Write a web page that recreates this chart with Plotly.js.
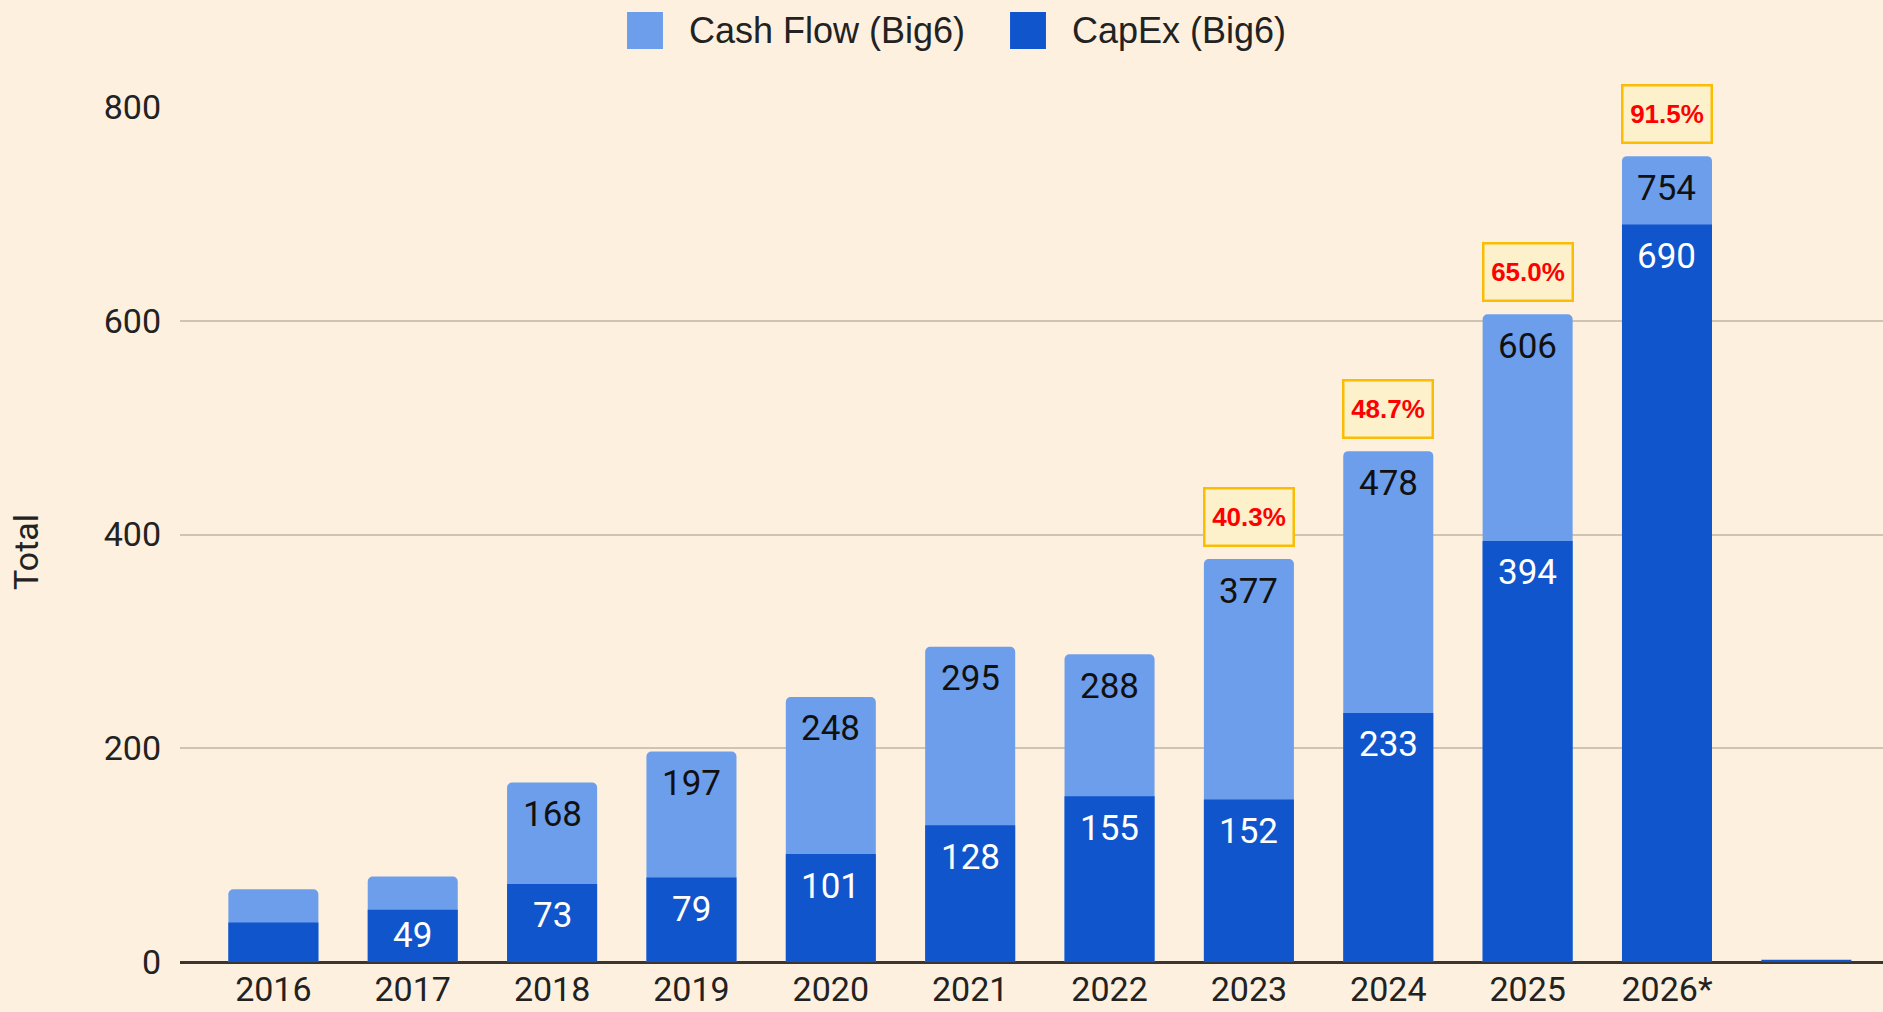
<!DOCTYPE html>
<html>
<head>
<meta charset="utf-8">
<script src="https://cdn.plot.ly/plotly-3.0.1.min.js"></script>
<style>
  html, body { margin: 0; padding: 0; background: #fdf0df; }
  #chart { width: 1883px; height: 1012px; }
</style>
</head>
<body>
<div id="chart"></div>
<script>
// ---- data ----
const categories = ['2016', '2017', '2018', '2019', '2020', '2021', '2022', '2023', '2024', '2025', '2026*', ' '];
const cashFlow = [68, 80, 168, 197, 248, 295, 288, 377, 478, 606, 754, 0];
const capex = [37, 49, 73, 79, 101, 128, 155, 152, 233, 394, 690, 2];
const cashFlowLabels = ['', '', '168', '197', '248', '295', '288', '377', '478', '606', '754', ''];
const capexLabels = ['', '49', '73', '79', '101', '128', '155', '152', '233', '394', '690', ''];
const ratioLabels = ['', '', '', '', '', '', '', '40.3%', '48.7%', '65.0%', '91.5%', ''];
const yTicks = [0, 200, 400, 600, 800];
const seriesNames = ['Cash Flow (Big6)', 'CapEx (Big6)'];
const seriesColors = ['#6d9eeb', '#1155cc'];

const FONT = 'Roboto, Arial, sans-serif';
const LEGEND_FONT = 'Arial, "Liberation Sans", sans-serif';

const traces = [
  {
    type: 'bar', name: seriesNames[0], x: categories, y: cashFlow,
    marker: { color: seriesColors[0], cornerradius: 5 },
    hoverinfo: 'x+y'
  },
  {
    type: 'bar', name: seriesNames[1], x: categories, y: capex,
    marker: { color: seriesColors[1] },
    hoverinfo: 'x+y'
  }
];

// category axis: annotations are placed by category index
const annotations = [];
categories.forEach((c, i) => {
  if (cashFlowLabels[i]) {
    annotations.push({
      x: i, y: cashFlow[i], xref: 'x', yref: 'y', text: cashFlowLabels[i],
      showarrow: false, yanchor: 'middle', yshift: -32,
      font: { family: FONT, size: 35, color: '#111111' }
    });
  }
  if (capexLabels[i]) {
    annotations.push({
      x: i, y: capex[i], xref: 'x', yref: 'y', text: capexLabels[i],
      showarrow: false, yanchor: 'middle', yshift: (capex[i] < 60 ? -26 : -32),
      font: { family: FONT, size: 35, color: '#ffffff' }
    });
  }
  if (ratioLabels[i]) {
    annotations.push({
      x: i, y: cashFlow[i], xref: 'x', yref: 'y', text: '<b>' + ratioLabels[i] + '</b>',
      showarrow: false, yanchor: 'bottom', yshift: 12,
      width: 83, height: 51, borderpad: 2, borderwidth: 2.5,
      bgcolor: '#fcf1cb', bordercolor: '#fbbc04',
      font: { family: 'Arial, "Liberation Sans", sans-serif', size: 26, color: '#ff0000' }
    });
  }
});

// y axis title, placed like the reference
annotations.push({
  xref: 'paper', yref: 'paper', x: -0.0905, y: 0.4795, text: 'Total', textangle: -90,
  showarrow: false, xanchor: 'center', yanchor: 'middle',
  font: { family: FONT, size: 34, color: '#222222' }
});

// legend with large swatches (as in the reference)
const legendSwatchX = [[0.2625, 0.2836], [0.4874, 0.5085]];
const legendTextX = [0.2977, 0.5226];
const shapes = [];
seriesNames.forEach((n, k) => {
  shapes.push({
    type: 'rect', xref: 'paper', yref: 'paper',
    x0: legendSwatchX[k][0], x1: legendSwatchX[k][1], y0: 1.0678, y1: 1.1111,
    fillcolor: seriesColors[k], line: { width: 0 }
  });
  annotations.push({
    xref: 'paper', yref: 'paper', x: legendTextX[k], y: 1.0895, text: n,
    showarrow: false, xanchor: 'left', yanchor: 'middle',
    font: { family: LEGEND_FONT, size: 36, color: '#222222' }
  });
});

const layout = {
  width: 1883, height: 1012,
  paper_bgcolor: '#fdf0df', plot_bgcolor: '#fdf0df',
  margin: { l: 180, r: 0, t: 107, b: 50 },
  barmode: 'overlay', bargap: 0.354,
  showlegend: false,
  xaxis: {
    type: 'category', range: [-0.67, 11.55],
    showgrid: false, showline: false, zeroline: false, ticks: '',
    tickfont: { family: FONT, size: 34, color: '#222222' },
    ticklabelstandoff: 4, fixedrange: true
  },
  yaxis: {
    range: [0, 800], tickvals: yTicks, ticktext: yTicks.map(String),
    showgrid: true, gridcolor: '#cfc4b4', gridwidth: 2,
    zeroline: true, zerolinecolor: '#3a3530', zerolinewidth: 3,
    showline: false, ticks: '',
    tickfont: { family: FONT, size: 34, color: '#222222' },
    ticklabelstandoff: 18,
    fixedrange: true
  },
  shapes: shapes,
  annotations: annotations
};

Plotly.newPlot('chart', traces, layout, { displayModeBar: false, staticPlot: true });
</script>
</body>
</html>
